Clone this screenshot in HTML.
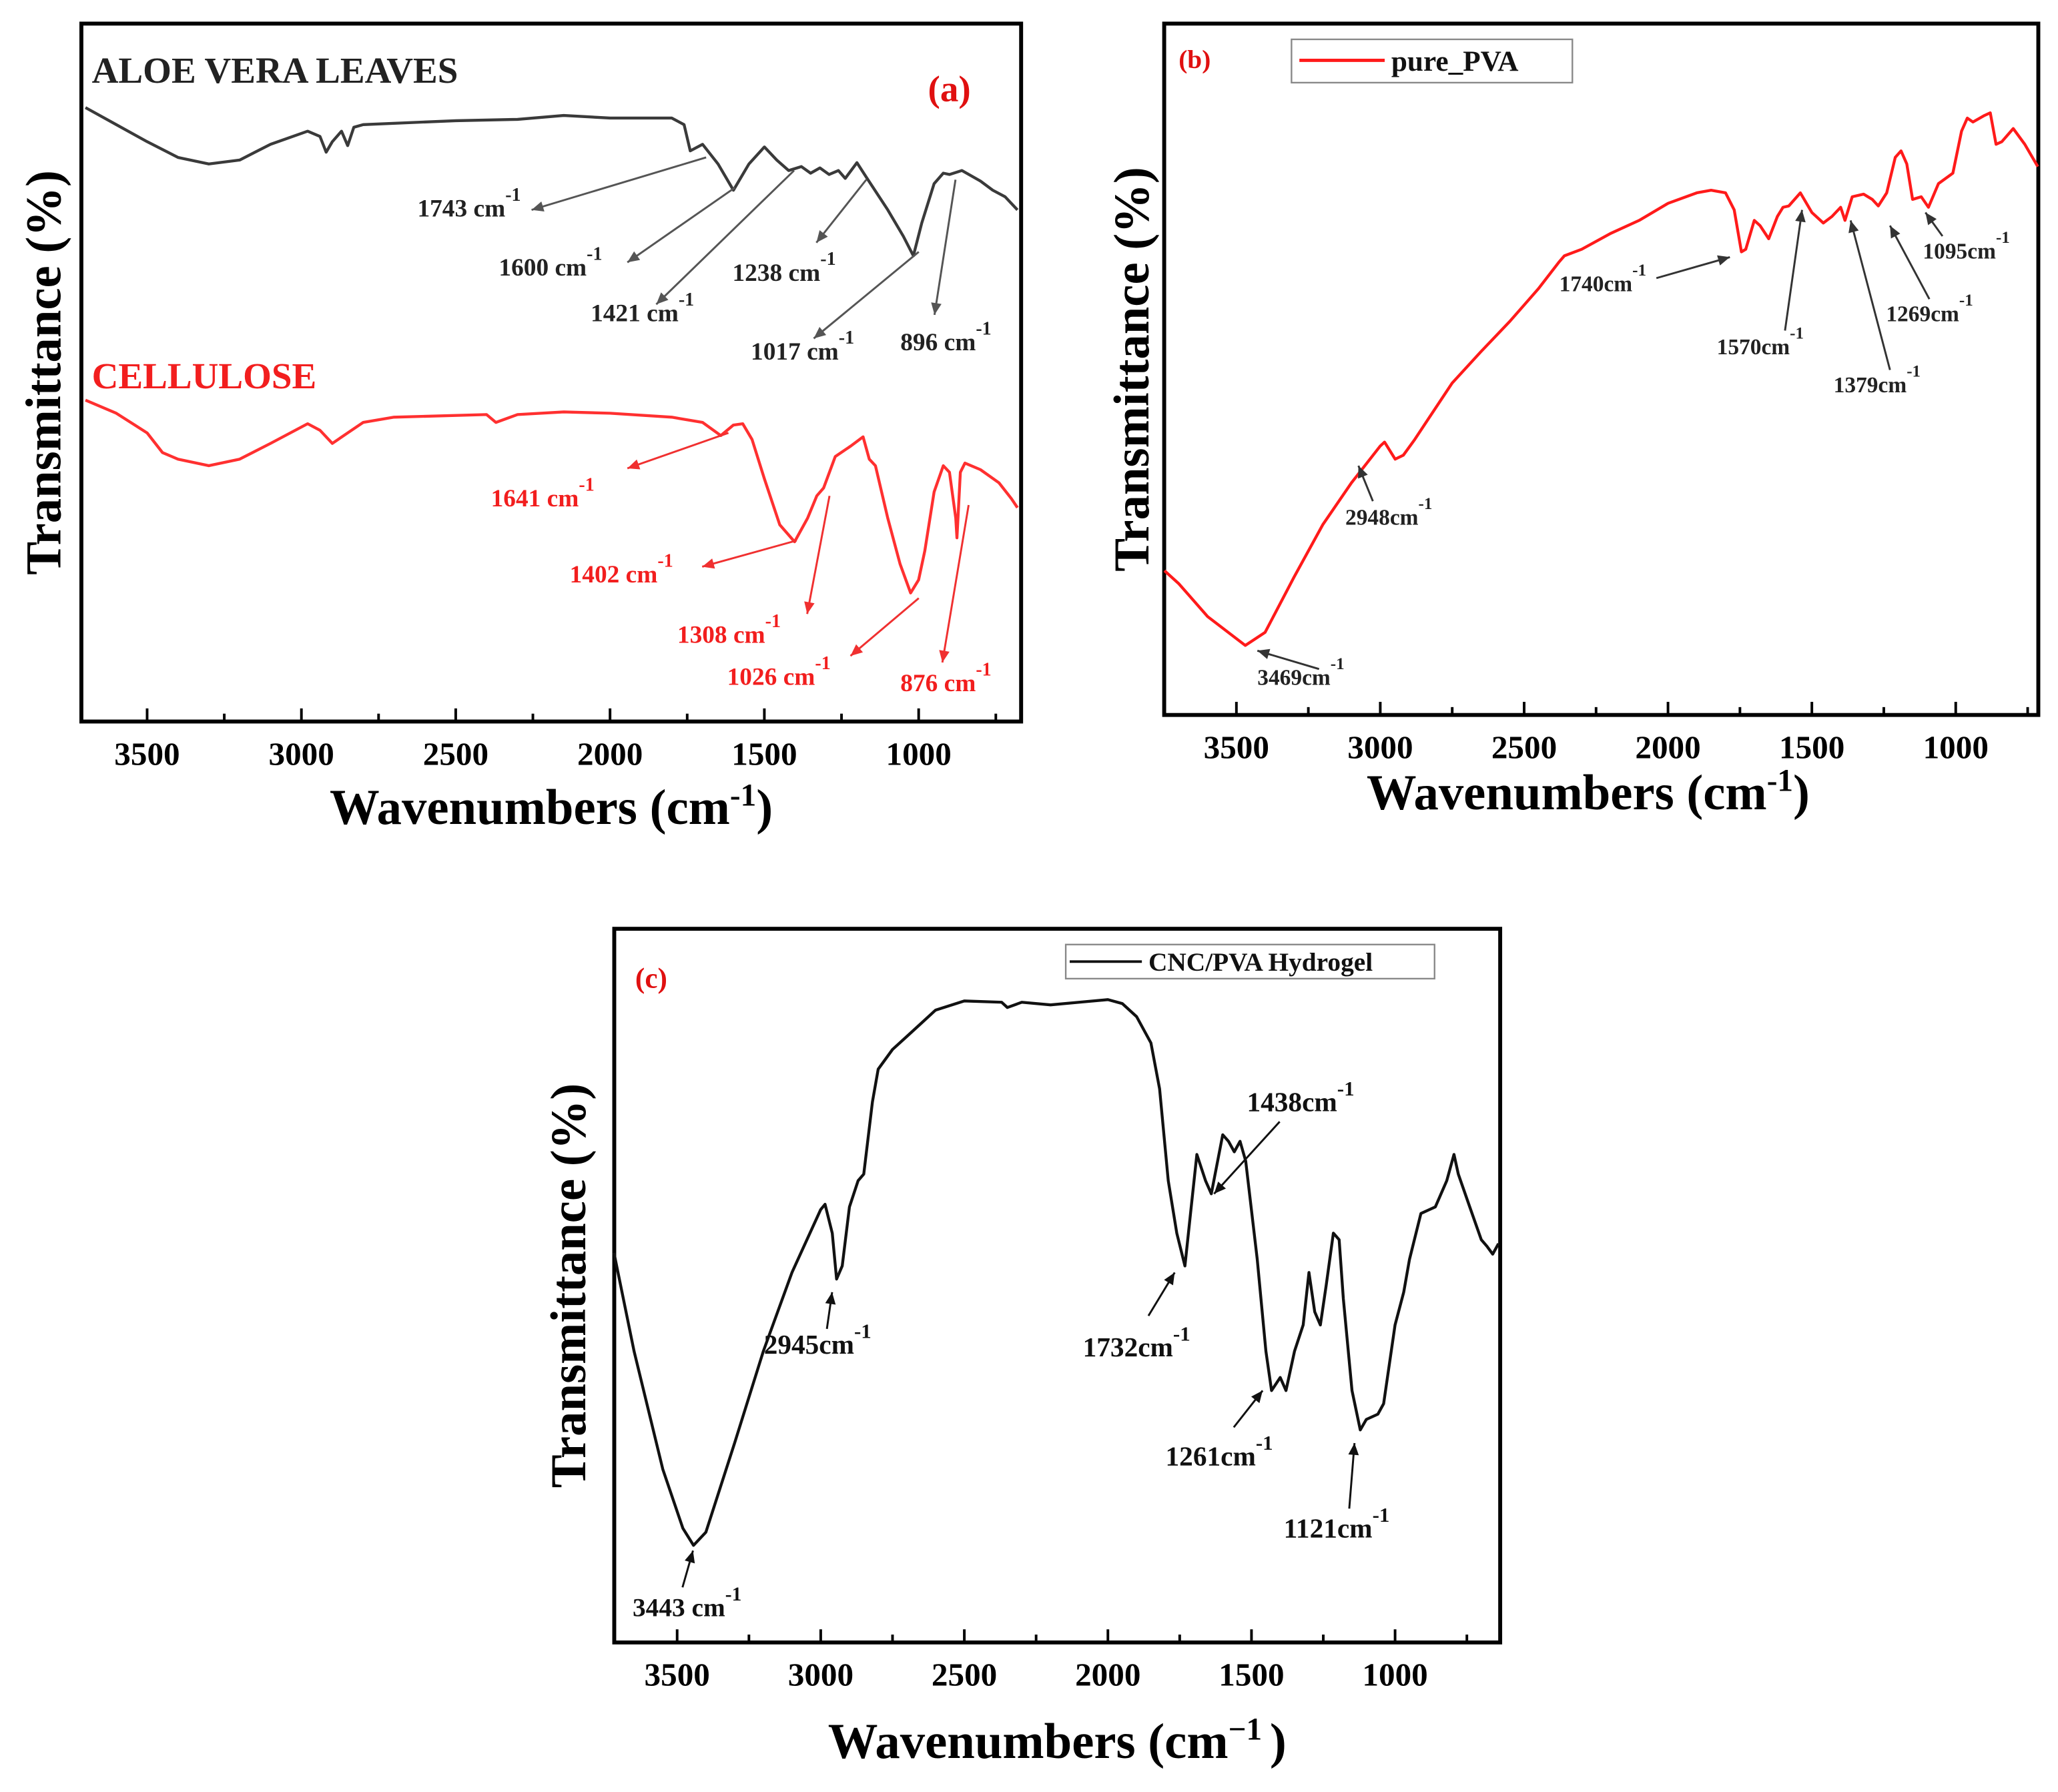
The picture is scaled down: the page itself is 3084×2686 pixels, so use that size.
<!DOCTYPE html>
<html><head><meta charset="utf-8"><style>
html,body{margin:0;padding:0;background:#fff;}
svg{display:block;}
text{font-family:"Liberation Serif",serif;font-weight:bold;}
</style></head><body>
<svg id="fig" width="3084" height="2686" viewBox="0 0 1568 1366" preserveAspectRatio="none" xmlns="http://www.w3.org/2000/svg">
<rect x="0" y="0" width="1568" height="1366" fill="#fff"/>
</svg>
<script>
// ---- data ----
const aloeWn = [3700,3600,3500,3400,3300,3200,3100,2980,2940,2920,2900,2870,2850,2830,2800,2500,2300,2150,2000,1800,1760,1740,1700,1650,1600,1550,1500,1460,1421,1380,1350,1320,1290,1260,1238,1200,1170,1100,1050,1017,990,950,920,900,860,800,760,720,680];
const aloeT = [468,455,442,430,425,428,440,450,446,434,442,450,439,453,455,458,459,462,460,460,455,435,440,425,405,425,438,428,420,423,418,422,417,420,414,426,415,390,370,355,380,410,418,417,420,412,405,400,390];
const celWn = [3700,3600,3500,3450,3400,3300,3200,3100,2980,2940,2900,2850,2800,2700,2400,2370,2300,2150,2000,1800,1700,1641,1600,1570,1540,1500,1450,1402,1360,1330,1308,1270,1220,1180,1160,1140,1100,1060,1026,1000,980,950,920,900,880,876,865,850,800,740,700,680];
const celT = [245,235,220,205,200,195,200,212,227,222,212,220,228,232,234,228,234,236,235,232,228,218,226,227,215,185,150,137,155,172,178,202,210,217,200,195,155,120,98,108,130,175,195,190,155,140,190,197,192,182,170,163];
const pvaWn = [3750,3700,3600,3469,3400,3300,3200,3100,3000,2985,2948,2920,2880,2850,2750,2650,2550,2450,2380,2360,2300,2200,2100,2000,1900,1850,1800,1770,1745,1730,1700,1680,1650,1620,1600,1580,1540,1500,1460,1430,1400,1385,1360,1320,1290,1269,1240,1210,1190,1170,1150,1120,1095,1060,1010,980,960,940,900,880,860,840,800,760,715];
const pvaT = [110,100,75,53,63,105,145,177,205,208,195,198,210,220,253,277,300,325,345,350,355,367,377,390,398,400,398,385,353,355,377,373,363,380,387,388,398,383,375,380,387,377,395,397,393,388,398,425,430,420,393,395,387,405,413,445,455,452,457,459,435,437,447,435,418];
const cncWn = [3720,3650,3550,3480,3443,3400,3300,3200,3100,3000,2985,2960,2945,2925,2900,2870,2850,2820,2800,2750,2700,2650,2600,2500,2370,2350,2300,2200,2100,2000,1950,1900,1850,1820,1790,1760,1732,1710,1690,1660,1640,1600,1580,1560,1540,1520,1480,1450,1430,1400,1380,1350,1320,1300,1280,1260,1240,1215,1195,1180,1150,1121,1100,1060,1040,1000,970,950,910,880,860,820,795,780,740,700,680,660,640];
const cncT = [297,222,132,87,74,84,152,222,282,330,334,312,277,287,332,352,357,412,437,452,462,472,482,489,488,484,488,486,488,490,487,477,457,422,352,312,287,332,372,352,342,387,382,374,382,367,292,222,192,202,192,222,242,282,252,242,272,312,307,262,192,162,170,174,182,242,267,292,327,330,332,352,372,357,332,307,302,296,304];
const tickValues = [3500,3000,2500,2000,1500,1000];
const tickLabels = ["3500","3000","2500","2000","1500","1000"];

const NS = "http://www.w3.org/2000/svg";
const svg = document.getElementById('fig');
function mk(tag, attrs, parent) {
  const e = document.createElementNS(NS, tag);
  for (const k in attrs) e.setAttribute(k, attrs[k]);
  (parent || svg).appendChild(e);
  return e;
}
function makePanel(p) {
  const g = mk('g', {});
  
  
  const xs = v => p.x0 + (p.wMax - v) / (p.wMax - p.wMin) * (p.x1 - p.x0);
  const ys = v => p.y1 - (v - p.tMin) / (p.tMax - p.tMin) * (p.y1 - p.y0);
  p.xs = xs; p.ys = ys;
  // minor ticks
  for (let w = 3750; w >= 500; w -= 250) {
    if (w > p.wMax || w < p.wMin) continue;
    const major = w % 500 === 0;
    const t = mk('line', {x1: xs(w), x2: xs(w), y1: p.y1, y2: p.y1 - (major ? 10 : 6), stroke: '#000', 'stroke-width': 2}, g);
    
    
  }
  tickValues.forEach((v, i) => {
    const t = mk('text', {x: xs(v), y: p.y1 + 33, 'font-size': 25, 'text-anchor': 'middle', fill: '#000'}, g);
    t.textContent = tickLabels[i];
    
    
  });
  // frame
  const fr = mk('rect', {x: p.x0, y: p.y0, width: p.x1 - p.x0, height: p.y1 - p.y0, fill: 'none', stroke: '#000', 'stroke-width': 3}, g);
  
  
  // x title
  const xt = mk('text', {x: (p.x0 + p.x1) / 2 + p.xtOff, y: p.y1 + p.xtDy, 'font-size': 38, 'text-anchor': 'middle', fill: '#000'}, g);
  xt.innerHTML = 'Wavenumbers (cm<tspan dy="-14" font-size="24">' + p.sup + '</tspan><tspan dy="14">)</tspan>';
  
  
  const yt = mk('text', {x: 0, y: 0, 'font-size': 38, 'text-anchor': 'middle', fill: '#000', transform: 'translate(' + p.ytx + ',' + ((p.y0 + p.y1) / 2 + p.ytOff) + ') rotate(-90)'}, g);
  yt.textContent = 'Transmittance (%)';
  
  
  return g;
}
function drawSeries(p, g, wn, tv, color, name) {
  let d = '';
  wn.forEach((w, i) => { d += (i ? 'L' : 'M') + p.xs(w).toFixed(1) + ',' + p.ys(tv[i]).toFixed(1); });
  const path = mk('path', {d: d, fill: 'none', stroke: color, 'stroke-width': 2.2, 'stroke-linejoin': 'round'}, g);
  
  
}
function label(g, x, y, txt, color, fs, sp) {
  const t = mk('text', {x: x, y: y, 'font-size': fs, fill: color}, g);
  t.innerHTML = txt + '<tspan dy="-12" font-size="' + (fs * 0.75) + '">' + (sp || '') + '-1</tspan>';
  
  
}
function arrow(g, x1, y1, x2, y2, color) {
  const l = mk('line', {x1: x1, y1: y1, x2: x2, y2: y2, stroke: color, 'stroke-width': 1.5}, g);
  
  
  const a = Math.atan2(y2 - y1, x2 - x1), L = 9, W = 4;
  const bx = x2 - L * Math.cos(a), by = y2 - L * Math.sin(a);
  const h = mk('polygon', {points: x2 + ',' + y2 + ' ' + (bx - W * Math.sin(a)) + ',' + (by + W * Math.cos(a)) + ' ' + (bx + W * Math.sin(a)) + ',' + (by - W * Math.cos(a)), fill: color}, g);
  
  
}

// Panel (a)
const pa = {name: 'panel-a', x0: 62, x1: 778, y0: 18, y1: 550, wMax: 3713, wMin: 668, tMin: 0, tMax: 532, xtOff: 0, xtDy: 78, sup: '-1', ytx: 46, ytOff: 0};
const ga = makePanel(pa);
drawSeries(pa, ga, aloeWn, aloeT, '#3a3a3a', 'aloe-vera-line');
drawSeries(pa, ga, celWn, celT, '#ff3030', 'cellulose-line');
let t = mk('text', {x: 70, y: 63, 'font-size': 28, fill: '#222'}, ga); t.textContent = 'ALOE VERA LEAVES';
 
t = mk('text', {x: 70, y: 296, 'font-size': 28, fill: '#f21e1e'}, ga); t.textContent = 'CELLULOSE';
 
t = mk('text', {x: 707, y: 77, 'font-size': 28, fill: '#e01010'}, ga); t.textContent = '(a)';
 
const gk = '#555', rd = '#f03030';
arrow(ga, 538, 120, 405, 160, gk); label(ga, 318, 165, '1743 cm', '#222', 19);
arrow(ga, 560, 143, 478, 200, gk); label(ga, 380, 210, '1600 cm', '#222', 19);
arrow(ga, 605, 130, 500, 232, gk); label(ga, 450, 245, '1421 cm', '#222', 19);
arrow(ga, 660, 137, 622, 185, gk); label(ga, 558, 214, '1238 cm', '#222', 19);
arrow(ga, 700, 192, 620, 258, gk); label(ga, 572, 274, '1017 cm', '#222', 19);
arrow(ga, 728, 137, 712, 240, gk); label(ga, 686, 267, '896 cm', '#222', 19);
arrow(ga, 555, 330, 478, 357, rd); label(ga, 374, 386, '1641 cm', '#f21e1e', 19);
arrow(ga, 607, 412, 535, 432, rd); label(ga, 434, 444, '1402 cm', '#f21e1e', 19);
arrow(ga, 632, 378, 615, 468, rd); label(ga, 516, 490, '1308 cm', '#f21e1e', 19);
arrow(ga, 700, 456, 648, 500, rd); label(ga, 554, 522, '1026 cm', '#f21e1e', 19);
arrow(ga, 738, 385, 718, 505, rd); label(ga, 686, 527, '876 cm', '#f21e1e', 19);

// Panel (b)
const pb = {name: 'panel-b', x0: 887, x1: 1553, y0: 18, y1: 545, wMax: 3751, wMin: 713, tMin: 0, tMax: 527, xtOff: -10, xtDy: 72, sup: '-1', ytx: 875, ytOff: 0};
const gb = makePanel(pb);
drawSeries(pb, gb, pvaWn, pvaT, '#ff1a1a', 'pure-pva-line');
t = mk('text', {x: 898, y: 52, 'font-size': 20, fill: '#e01010'}, gb); t.textContent = '(b)';
 
let lg = mk('rect', {x: 984, y: 30, width: 214, height: 33, fill: '#fff', stroke: '#888', 'stroke-width': 1.2}, gb);
 
lg = mk('line', {x1: 990, x2: 1055, y1: 46, y2: 46, stroke: '#ff1a1a', 'stroke-width': 2.5}, gb);
 
t = mk('text', {x: 1060, y: 54, 'font-size': 22, fill: '#111'}, gb); t.textContent = 'pure_PVA';
 
arrow(gb, 1005, 510, 958, 496, '#333'); label(gb, 958, 522, '3469cm', '#222', 17);
arrow(gb, 1046, 382, 1035, 355, '#333'); label(gb, 1025, 400, '2948cm', '#222', 17);
arrow(gb, 1262, 212, 1318, 196, '#333'); label(gb, 1188, 222, '1740cm', '#222', 17);
arrow(gb, 1360, 252, 1373, 160, '#333'); label(gb, 1308, 270, '1570cm', '#222', 17);
arrow(gb, 1440, 282, 1410, 168, '#333'); label(gb, 1397, 299, '1379cm', '#222', 17);
arrow(gb, 1470, 228, 1440, 172, '#333'); label(gb, 1437, 245, '1269cm', '#222', 17);
arrow(gb, 1480, 180, 1467, 162, '#333'); label(gb, 1465, 197, '1095cm', '#222', 17);

// Panel (c)
const pc = {name: 'panel-c', x0: 468, x1: 1143, y0: 708, y1: 1252, wMax: 3719, wMin: 634, tMin: 0, tMax: 544, xtOff: 0, xtDy: 88, sup: '−1 ', ytx: 446, ytOff: 0};
const gc = makePanel(pc);
drawSeries(pc, gc, cncWn, cncT, '#111', 'cnc-pva-line');
t = mk('text', {x: 484, y: 753, 'font-size': 22, fill: '#e01010'}, gc); t.textContent = '(c)';
 
lg = mk('rect', {x: 812, y: 720, width: 281, height: 26, fill: '#fff', stroke: '#888', 'stroke-width': 1.2}, gc);
 
lg = mk('line', {x1: 815, x2: 870, y1: 733, y2: 733, stroke: '#111', 'stroke-width': 2}, gc);
 
t = mk('text', {x: 875, y: 740, 'font-size': 20, fill: '#111'}, gc); t.textContent = 'CNC/PVA Hydrogel';
 
arrow(gc, 520, 1210, 528, 1182, '#111'); label(gc, 482, 1232, '3443 cm', '#111', 20);
arrow(gc, 630, 1013, 634, 985, '#111'); label(gc, 582, 1032, '2945cm', '#111', 21);
arrow(gc, 875, 1003, 895, 970, '#111'); label(gc, 825, 1034, '1732cm', '#111', 21);
arrow(gc, 975, 855, 925, 910, '#111'); label(gc, 950, 847, '1438cm', '#111', 21);
arrow(gc, 940, 1088, 962, 1060, '#111'); label(gc, 888, 1117, '1261cm', '#111', 21);
arrow(gc, 1028, 1150, 1032, 1100, '#111'); label(gc, 978, 1172, '1121cm', '#111', 21);
</script>
</body></html>
